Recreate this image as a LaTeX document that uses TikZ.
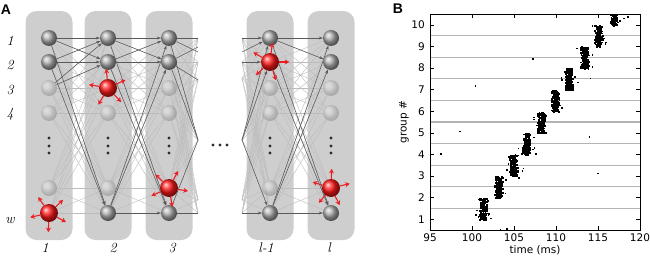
\documentclass[tikz,border=0pt]{standalone}
\usepackage{fontspec}
\newfontfamily\dejavu{DejaVu Sans}
\newfontfamily\libsans{Liberation Sans}
\usetikzlibrary{arrows.meta,calc}
\pgfdeclarelayer{bg}
\pgfdeclarelayer{mid}
\pgfsetlayers{bg,mid,main}
\definecolor{colbg}{RGB}{206,206,206}
\definecolor{lightln}{RGB}{188,188,188}
\definecolor{darkln}{RGB}{90,90,90}
\definecolor{redarrow}{RGB}{235,30,35}
\definecolor{sepline}{RGB}{180,180,180}
\begin{document}
\begin{tikzpicture}[x=1pt,y=-1pt,
  colbox/.style={rectangle, rounded corners=11pt, fill=colbg, draw=none, minimum width=47pt, minimum height=229pt, inner sep=0pt},
  dk/.style={circle, minimum size=16pt, inner sep=0pt, shading=ball, ball color=gray!62},
  lt/.style={circle, minimum size=16pt, inner sep=0pt, shading=ball, ball color=gray!25, opacity=0.35},
  rd/.style={circle, minimum size=18pt, inner sep=0pt, shading=ball, ball color=red!90!white},
  darr/.style={draw=darkln, line width=0.55pt, -{Stealth[length=4pt,width=3pt]}},
  dln/.style={draw=darkln, line width=0.55pt},
  lln/.style={draw=lightln, line width=0.4pt},
  rarr/.style={draw=redarrow, line width=1.1pt, -{Stealth[length=4.5pt,width=5pt]}},
  vdot/.style={circle, fill=gray!35!black, minimum size=3.4pt, inner sep=0pt},
  rowlab/.style={font=\fontsize{14}{15}\selectfont\itshape},
  ticklab/.style={font=\dejavu\fontsize{10.5}{12}\selectfont},
  panlab/.style={font=\libsans\bfseries\fontsize{14}{16}\selectfont}
]
\useasboundingbox (0,0) rectangle (650,257);

% ---------------- Panel A ----------------
\begin{pgfonlayer}{bg}
\foreach \c/\x in {1/49,2/108,3/169,4/270,5/331}{
  \node[colbox] (col\c) at (\x,125.5) {};
}
\end{pgfonlayer}

% nodes
\foreach \c/\x/\ta/\tb/\tc/\td/\te/\tf in {
  1/49/dk/dk/lt/lt/lt/rd,
  2/108/dk/dk/rd/lt/lt/dk,
  3/169/dk/dk/lt/lt/rd/dk,
  4/270/dk/rd/lt/lt/lt/dk,
  5/331/dk/dk/lt/lt/rd/dk}{
  \node[\ta] (n\c1) at (\x,38) {};
  \node[\tb] (n\c2) at (\x,62) {};
  \node[\tc] (n\c3) at (\x,88) {};
  \node[\td] (n\c4) at (\x,113) {};
  \node[\te] (n\c5) at (\x,188) {};
  \node[\tf] (n\c6) at (\x,213) {};
  \node[vdot] (da\c) at (\x,138) {};
  \node[vdot] (db\c) at (\x,146) {};
  \node[vdot] (dc\c) at (\x,153) {};
}
\node[vdot] (h1) at (213,145) {};
\node[vdot] (h2) at (220,145) {};
\node[vdot] (h3) at (227,145) {};

% free ends near the ellipsis
\coordinate (oA) at (198,38);
\coordinate (oB) at (198,52);
\coordinate (oC) at (198,47);
\coordinate (oD) at (198,62);
\coordinate (oE) at (198,80);
\coordinate (oM) at (198,140);
\coordinate (oW) at (198,213);
\coordinate (oV) at (198,200);
\coordinate (iA) at (242,38);
\coordinate (iB) at (242,52);
\coordinate (iD) at (242,62);
\coordinate (iE) at (242,78);
\coordinate (iM) at (242,140);
\coordinate (iW) at (242,213);
\coordinate (iV) at (242,200);

\begin{pgfonlayer}{mid}
% light mesh
\foreach \a/\b in {1/2,2/3,4/5}{
  \foreach \r in {1,...,6}{
    \foreach \s in {1,...,6}{
      \draw[lln] (n\a\r) -- (n\b\s);
    }
  }
}
\foreach \r in {1,...,6}{
  \foreach \o in {oA,oD,oE,oM,oV,oW}{ \draw[lln] (n3\r) -- (\o); }
  \foreach \o in {iA,iD,iE,iM,iV,iW}{ \draw[lln] (\o) -- (n4\r); }
}
% dark connections col 1 -> col 2
\draw[darr] (n11) -- (n21);
\draw[darr] (n11) -- (n22);
\draw[darr] (n12) -- (n21);
\draw[darr] (n12) -- (n22);
\draw[darr] (n13) -- (n21);
\draw[darr] (n13) -- (n22);
\draw[darr] (n11) -- (n26);
\draw[darr] (n12) -- (n26);
% col 2 -> col 3
\draw[darr] (n21) -- (n31);
\draw[darr] (n21) -- (n32);
\draw[darr] (n22) -- (n31);
\draw[darr] (n22) -- (n32);
\draw[darr] (n21) -- (n36);
\draw[darr] (n22) -- (n36);
\draw[darr] (n26) -- (n31);
\draw[darr] (n26) -- (n32);
\draw[darr] (n26) -- (n36);
% col 3 -> ellipsis
\draw[dln] (n31) -- (oA);
\draw[dln] (n31) -- (oB);
\draw[dln] (n32) -- (oC);
\draw[dln] (n32) -- (oE);
\draw[dln] (n31) -- (oM);
\draw[dln] (n32) -- (oM);
\draw[dln] (n36) -- (oM);
\draw[dln] (n36) -- (oW);
% ellipsis -> col l-1
\draw[darr] (iA) -- (n41);
\draw[darr] (iB) -- (n41);
\draw[darr] (iD) -- (n42);
\draw[darr] (iM) -- (n41);
\draw[darr] (iM) -- (n42);
\draw[darr] (iM) -- (n46);
\draw[darr] (iW) -- (n46);
% col l-1 -> col l
\draw[darr] (n41) -- (n51);
\draw[darr] (n41) -- (n52);
\draw[darr] (n41) -- (n56);
\draw[darr] (n42) -- (n56);
\draw[darr] (n46) -- (n51);
\draw[darr] (n46) -- (n52);
\draw[darr] (n46) -- (n56);
\end{pgfonlayer}

% red firing arrows
\foreach \a in {124,43,193,-28,268}{ \draw[rarr] (n16.\a) -- ++(\a:10pt); }
\foreach \a in {95,25,170,240,-47}{ \draw[rarr] (n23.\a) -- ++(\a:10pt); }
\foreach \a in {135,62,204,-9,-80}{ \draw[rarr] (n35.\a) -- ++(\a:10pt); }
\foreach \a in {83,150,0,223,-72}{ \draw[rarr] (n42.\a) -- ++(\a:10pt); }
\foreach \a in {88,162,13,231,-63}{ \draw[rarr] (n55.\a) -- ++(\a:10pt); }

% labels
\node[panlab] (labA) at (6,10) {A};
\node[rowlab] (r1) at (10,41) {1};
\node[rowlab] (r2) at (10,65) {2};
\node[rowlab] (r3) at (10,90) {3};
\node[rowlab] (r4) at (10,114) {4};
\node[rowlab] (rw) at (10,220) {w};
\node[rowlab] (c1) at (45,248) {1};
\node[rowlab] (c2) at (113,248) {2};
\node[rowlab] (c3) at (172,248) {3};
\node[rowlab] (c4) at (266,248) {l-1};
\node[rowlab] (c5) at (329,248) {l};

% ---------------- Panel B ----------------
\node[panlab] (labB) at (398,9) {B};
\foreach \k in {1,...,9}{
  \draw[sepline, line width=1.1pt] (430,{230-\k*21.6}) -- (640,{230-\k*21.6});
}
\begin{scope}
\clip (430,14) rectangle (640,230);
\pgfmathsetseed{11}
\foreach \g/\c in {1/101.3,2/103.1,3/104.9,4/106.4,5/108.2,6/109.8,7/111.5,8/113.3,9/115.0,10/116.8}{
  \foreach \i in {1,...,150}{
    \pgfmathsetmacro\px{430+(\c+0.28*(rand+rand)-95)*8.4}
    \pgfmathsetmacro\py{230-(\g-0.5+rnd)*21.6}
    \fill[black] (\px,\py) rectangle ++(1.8,1.8);
  }
  \foreach \i in {1,...,8}{
    \pgfmathsetmacro\px{430+(\c+0.15+1.1*rand-95)*8.4}
    \pgfmathsetmacro\py{230-(\g-0.5+rnd)*21.6}
    \fill[black] (\px,\py) rectangle ++(1.6,1.6);
  }
}
\foreach \t/\gg in {96.2/4.05,98.5/5.1,100.3/7.2,107.2/8.45,107.3/5.75,113.9/4.85,114.9/3.15,104.1/0.6,103.3/0.53,118.5/10.4,114.0/7.55,107.5/4.05,105.5/2.95}{
  \fill[black] ({430+(\t-95)*8.4},{230-(\gg-0.5)*21.6}) rectangle ++(1.7,1.7);
}
\end{scope}
\draw[black, line width=0.6pt] (430,14) rectangle (640,230);
\foreach \t in {100,105,110,115}{
  \draw[black, line width=0.5pt] ({430+(\t-95)*8.4},230) -- ++(0,-4);
  \draw[black, line width=0.5pt] ({430+(\t-95)*8.4},14) -- ++(0,4);
}
\foreach \g in {1,...,10}{
  \draw[black, line width=0.5pt] (430,{230-(\g-0.5)*21.6}) -- ++(4,0);
  \draw[black, line width=0.5pt] (640,{230-(\g-0.5)*21.6}) -- ++(-4,0);
  \node[ticklab, anchor=east, inner sep=0pt] (yl\g) at (425,{230-(\g-0.5)*21.6}) {\g};
}
\foreach \t in {95,100,105,110,115,120}{
  \node[ticklab, inner sep=0pt] (xl\t) at ({430+(\t-95)*8.4},238) {\t};
}
\node[ticklab] (xlab) at (535,250) {time (ms)};
\node[ticklab, rotate=90] (ylab) at (404,122) {group \#};
\end{tikzpicture}
\end{document}
